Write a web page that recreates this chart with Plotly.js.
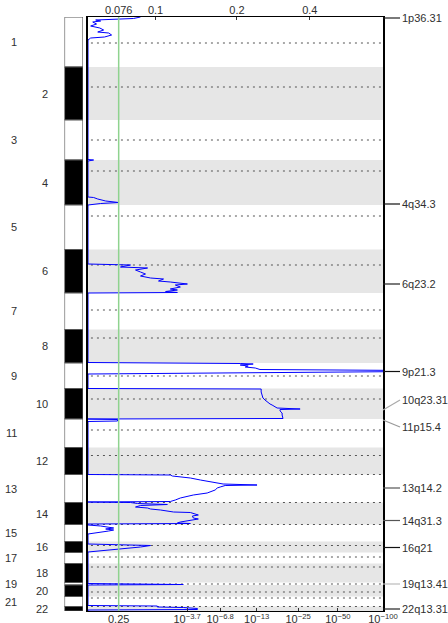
<!DOCTYPE html>
<html><head><meta charset="utf-8">
<script src="https://cdn.plot.ly/plotly-3.0.1.min.js"></script>
<style>html,body{margin:0;padding:0;background:#fff;}#plot{width:448px;height:623px;}</style>
</head><body><div id="plot"></div>
<script>
// ---- data ----
const chromNames = ['1','2','3','4','5','6','7','8','9','10','11','12','13','14','15','16','17','18','19','20','21','22'];
const chromLen = [50,53,40,45,44.5,43.5,36.5,33.5,25.5,30.5,28.5,27,28,22,17,11,11,19,2.5,11.5,10,4.5];
const centroOffset = [26,20,20,11,11,15.5,17,8.5,13,10.5,11,8,0,0,0,4,4.5,3.5,1.5,7,1.5,0];

// genome position (plot units, top = 0) and score (display units, 0..1 across the plot)
const scorePos = [0,1.5,3,4,5,7,9,11,13,15,16,18,20,21,23,
  142.5,143,144,180,180.5,182,184,185.5,186.5,188,
  247,248,250,251,253,255,257,259,261,262,264,265,266,267,268,270,272,273,274.5,275.5,276,
  345.5,346.5,347,348,349,350,351,352.5,353.5,354.5,355.5,357,
  371.5,372,375,378,381,383,385,387,388,390,391,392,392.5,394,396,398,400,401.5,402,
  402.5,404,404.5,
  457.5,458,459,460,461,463,465,466,467,468,468.5,470,471,473,475,476,478,479,481,483,484.5,485,
  485.5,486.5,487.5,488.5,490,491,492,493,494,495,495.5,497,498,499,501,502,503,504,505,506,506.5,507,
  508,509,510,511,512,513,514,515,516,517,
  527,528,528.5,530,531,532,533,534,535,
  566.5,567,567.5,568,
  588.5,589,590,590.5,591.5,592.5,593,
  594];
const scoreVal = [0.178,0.154,0.026,0.043,0.016,0.029,0.009,0.040,0.053,0.033,0.070,0.080,0.056,0.009,0,
  0,0.019,0,0,0.019,0.033,0.060,0.104,0.043,0,
  0,0.144,0.110,0.202,0.161,0.178,0.195,0.178,0.212,0.256,0.239,0.279,0.313,0.337,0.296,0.313,0.279,0.303,0.263,0.303,0,
  0,0.516,0.560,0.516,0.543,0.533,0.567,0.583,1.1,1.1,0.492,0,
  0,0.587,0.587,0.590,0.593,0.600,0.607,0.617,0.624,0.634,0.641,0.719,0.651,0.651,0.658,0.658,0.661,0.661,0,
  0.100,0.100,0,
  0,0.279,0.286,0.330,0.347,0.381,0.425,0.442,0.458,0.573,0.465,0.448,0.438,0.431,0.415,0.404,0.357,0.340,0.313,0.296,0.279,0,
  0.144,0.168,0.269,0.178,0.161,0.202,0.212,0.246,0.273,0.290,0.347,0.367,0.374,0.354,0.357,0.374,0.347,0.323,0.313,0.303,0.347,0,
  0,0.043,0.077,0.087,0.060,0.087,0.070,0.043,0.026,0,
  0,0.134,0.212,0.178,0.144,0.110,0.077,0.043,0,
  0,0.296,0.323,0,
  0,0.235,0.235,0.323,0.371,0.371,0,
  0];

// top axis (G-score) and bottom axis (q-value) ticks
const gTickText = ['0.076','0.1','0.2','0.4'];
const gTickAt = [0.104,0.229,0.505,0.752];
const qTickText = ['0.25','10<sup>−3.7</sup>','10<sup>−6.8</sup>','10<sup>−13</sup>','10<sup>−25</sup>','10<sup>−50</sup>','10<sup>−100</sup>'];
const qTickAt = [0.104,0.336,0.448,0.572,0.712,0.847,1.0];
const threshold = 0.104;

// peak labels
const peakNames = ['1p36.31','4q34.3','6q23.2','9p21.3','10q23.31','11p15.4','13q14.2','14q31.3','16q21','19q13.41','22q13.31'];
const peakPos =   [1,187,267,354.5,393,403,471,503.5,530.5,567,592];
const labelPos =  [1,187,267,354.5,383,410,471,503.5,530.5,567,592];
const peakShade = ['#222','#111','#222','#111','#aaa','#999','#555','#555','#111','#bbb','#222'];

// ---- build ----
const starts = [];
let acc = 0;
chromLen.forEach(l => { starts.push(acc); acc += l; });
const total = acc;
const mids = starts.map((s,i) => s + chromLen[i]/2);

const PW = 383; // paper width in px (l margin 0)
const px = v => v / PW;
const FAM = 'Liberation Sans, Arial, sans-serif';
const TXT = '#303030';

const shapes = [];
chromLen.forEach((l,i) => {
  if (i % 2 === 1) shapes.push({type:'rect', xref:'x domain', yref:'y', x0:0, x1:1, y0:starts[i], y1:starts[i]+l,
    fillcolor:'#e6e6e6', line:{width:0}, layer:'below'});
});
chromLen.forEach((l,i) => {
  const y = starts[i] + centroOffset[i];
  shapes.push({type:'line', xref:'x domain', yref:'y', x0:0.01, x1:0.995, y0:y, y1:y,
    line:{color:'#555', width:1, dash:'2px,4px'}, layer:'below'});
});
shapes.push({type:'line', xref:'x', yref:'y', x0:threshold, x1:threshold, y0:0, y1:total,
  line:{color:'#8fd38f', width:1.5}, layer:'above'});
peakNames.forEach((n,i) => {
  shapes.push({type:'line', xref:'paper', yref:'y', x0:1, x1:1+px(17), y0:peakPos[i], y1:labelPos[i],
    line:{color:peakShade[i], width:1.2}});
});

const annotations = [];
chromNames.forEach((n,i) => {
  const odd = i % 2 === 0;
  annotations.push({xref:'paper', yref:'y', x: odd ? px(19) : px(50), y: mids[i], text:n, showarrow:false,
    xanchor:'right', yanchor:'middle', font:{size:11, color:TXT, family:FAM}});
});
peakNames.forEach((n,i) => {
  annotations.push({xref:'paper', yref:'y', x: 1+px(17), y: labelPos[i], text:n, showarrow:false,
    xanchor:'left', yanchor:'middle', font:{size:11, color:TXT, family:FAM}});
});

const traces = [
  {type:'bar', x:chromLen.map(()=>0), y:chromLen, base:starts, width:1, xaxis:'x3', yaxis:'y',
   marker:{color:chromLen.map((l,i)=> i%2===1 ? '#000' : '#fff'), line:{color:'#555', width:1.2}},
   hoverinfo:'skip', showlegend:false},
  {type:'scatter', mode:'lines', x:scoreVal, y:scorePos, xaxis:'x', yaxis:'y',
   line:{color:'#0000ff', width:1}, hoverinfo:'skip', showlegend:false},
  {type:'scatter', mode:'lines', x:[0,1], y:[0,0], xaxis:'x2', yaxis:'y',
   line:{width:0, color:'rgba(0,0,0,0)'}, hoverinfo:'skip', showlegend:false}
];

const font = {family:FAM, size:11, color:TXT};
const layout = {
  width:448, height:623,
  margin:{l:0, r:65, t:17, b:12, pad:0},
  paper_bgcolor:'#fff', plot_bgcolor:'rgba(0,0,0,0)',
  font:font, showlegend:false, bargap:0,
  xaxis:{domain:[px(88),1], range:[0,1], showgrid:false, zeroline:false,
    tickmode:'array', tickvals:qTickAt, ticktext:qTickText, ticks:'inside', ticklen:3, tickcolor:'#333',
    showline:true, linecolor:'#000', linewidth:1, mirror:true, tickfont:font, fixedrange:true, ticklabelstandoff:-2},
  xaxis2:{overlaying:'x', side:'top', range:[0,1], showgrid:false, zeroline:false,
    tickmode:'array', tickvals:gTickAt, ticktext:gTickText, ticks:'inside', ticklen:3, tickcolor:'#333',
    showline:false, tickfont:font, anchor:'y'},
  xaxis3:{domain:[px(64.5), px(83)], range:[-0.5,0.5], visible:false, anchor:'y', fixedrange:true},
  yaxis:{range:[total,0], showgrid:false, zeroline:false, showticklabels:false, ticks:'',
    showline:true, linecolor:'#000', linewidth:1.6, mirror:true, fixedrange:true},
  shapes:shapes, annotations:annotations
};
Plotly.newPlot('plot', traces, layout, {displayModeBar:false, staticPlot:true});
</script></body></html>
